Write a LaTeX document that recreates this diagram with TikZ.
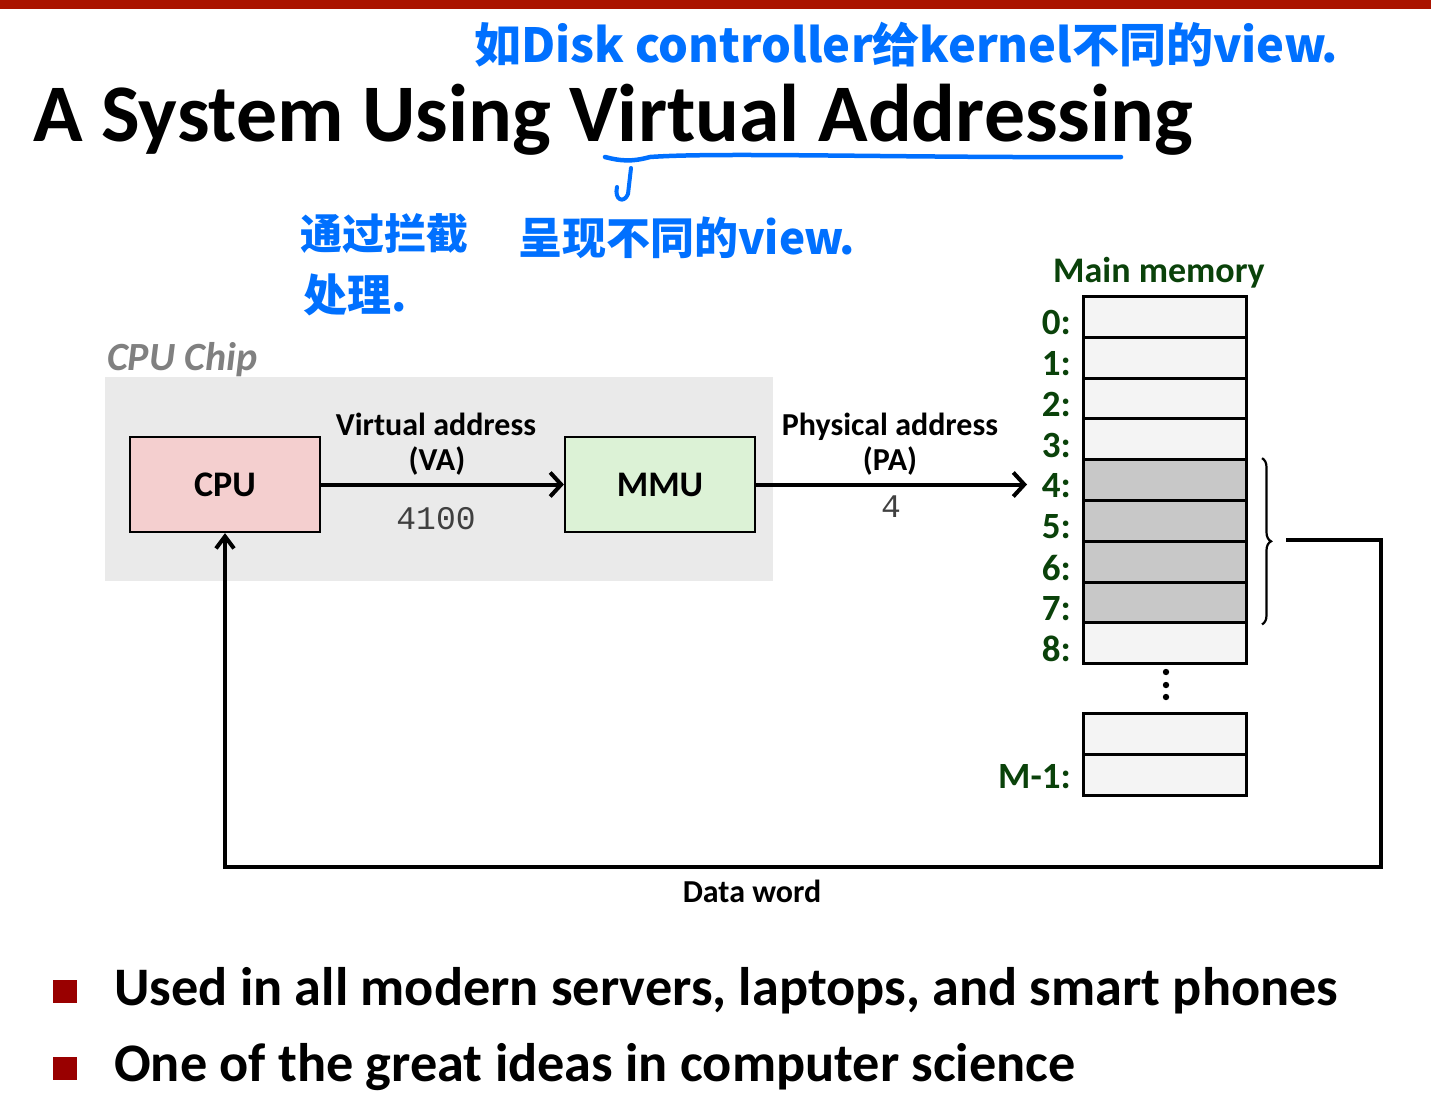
\documentclass[tikz,border=0pt]{standalone}
\usepackage{fontspec}
\setmainfont{Carlito}
\newfontfamily\monofont{Liberation Mono}
\newfontfamily\cjk{Noto Sans CJK SC}
\usetikzlibrary{arrows.meta,decorations.pathreplacing}
\definecolor{barred}{RGB}{170,20,0}
\definecolor{inkblue}{RGB}{0,112,255}
\definecolor{chipgray}{RGB}{234,234,234}
\definecolor{cpufill}{RGB}{244,207,207}
\definecolor{mmufill}{RGB}{220,242,214}
\definecolor{memgreen}{RGB}{10,66,10}
\definecolor{memlight}{RGB}{244,244,244}
\definecolor{memdark}{RGB}{200,200,200}
\definecolor{bulletred}{RGB}{153,0,0}
\definecolor{labelgray}{RGB}{128,128,128}
\newcommand{\fsz}[1]{\fontsize{#1}{#1}\selectfont}
\tikzset{
  unitbox/.style={draw=black, line width=2.2pt, minimum width=190pt, minimum height=95pt, inner sep=0pt, font=\fsz{36}\bfseries},
  memcell/.style={draw=black, line width=3pt, minimum width=163pt, minimum height=40.8pt, inner sep=0pt, anchor=north west},
  memlabel/.style={anchor=east, text=memgreen, font=\fsz{37}\bfseries, inner sep=0pt},
  flow/.style={line width=4pt, -{Straight Barb[length=11pt,width=24pt,line width=4pt]}},
  wire/.style={line width=3.8pt},
  lbl/.style={anchor=base, font=\fsz{32}\bfseries, inner sep=0pt},
  ink/.style={text=inkblue, font=\fsz{44}\cjk\bfseries, inner sep=0pt},
  inkline/.style={draw=inkblue, line width=4.5pt, line cap=round, line join=round},
  bulletbox/.style={fill=bulletred, minimum width=24pt, minimum height=23pt, inner sep=0pt, anchor=north west},
  bullettext/.style={anchor=base west, font=\fsz{54.3}\bfseries, inner sep=0pt}
}
\begin{document}
\begin{tikzpicture}[x=1pt,y=-1pt]
\useasboundingbox (0,0) rectangle (1431,1112);
\fill[white] (0,0) rectangle (1431,1112);
% top bar
\fill[barred] (0,0) rectangle (1431,9);
% title
\node[anchor=base west, inner sep=0pt, font=\fsz{81.8}\bfseries] (title) at (33,141) {A System Using Virtual Addressing};
% handwritten notes
\node[ink, anchor=west, font=\fsz{47}\cjk\bfseries] (note1) at (474,45) {如Disk controller给kernel不同的view.};
\draw[inkline] (605,157) .. controls (620,161) and (632,162) .. (650,157) .. controls (720,152) and (900,158) .. (1121,157);
\draw[inkline, line width=4pt] (631,168) -- (628,194) .. controls (624,204) and (614,200) .. (617,187);
\node[ink, anchor=west, font=\fsz{42}\cjk\bfseries] (note2) at (300,234) {通过拦截};
\node[ink, anchor=west] (note3) at (303,295) {处理.};
\node[ink, anchor=west] (note4) at (518,238) {呈现不同的view.};
% CPU chip
\node[anchor=base west, inner sep=0pt, text=labelgray, font=\fsz{40}\bfseries\itshape] (chiplabel) at (107,370) {CPU Chip};
\node[fill=chipgray, minimum width=668pt, minimum height=204pt, inner sep=0pt, anchor=north west] (chip) at (105,377) {};
\node[unitbox, fill=cpufill] (cpu) at (225,484.5) {CPU};
\node[unitbox, fill=mmufill] (mmu) at (660,484.5) {MMU};
\draw[flow] (cpu.east) -- (mmu.west);
\node[lbl] (va1) at (436,435) {Virtual address};
\node[lbl] (va2) at (437,470) {(VA)};
\node[anchor=base, inner sep=0pt, font=\fsz{33}\monofont, text=black!75] (vanum) at (436,529) {4100};
\coordinate (pa) at (1027,484.5);
\draw[flow] (mmu.east) -- (pa);
\node[lbl] (pa1) at (890,435) {Physical address};
\node[lbl] (pa2) at (890,470) {(PA)};
\node[anchor=base, inner sep=0pt, font=\fsz{33}\monofont, text=black!75] (panum) at (891,517) {4};
% main memory
\node[anchor=base, inner sep=0pt, text=memgreen, font=\fsz{36}\bfseries] (memtitle) at (1159,282) {Main memory};
\foreach \i in {0,...,8} {
  \pgfmathsetmacro{\yy}{295+\i*40.8}
  \ifnum\i<4 \def\cf{memlight}\else\ifnum\i<8 \def\cf{memdark}\else\def\cf{memlight}\fi\fi
  \node[memcell, fill=\cf] (m\i) at (1082,\yy) {};
  \node[memlabel] (l\i) at ([xshift=-11pt,yshift=-6pt]m\i.west) {\i:};
}
\node[memcell, fill=memlight] (ma) at (1082,712) {};
\node[memcell, fill=memlight] (mb) at (1082,752.8) {};
\node[memlabel] (lm) at ([xshift=-11pt,yshift=-2pt]mb.west) {M-1:};
\foreach \yy [count=\k] in {672,685,697} {
  \fill (1166,\yy) circle (3.2pt);
}
\draw[line width=2.2pt, decorate, decoration={brace, amplitude=9pt}] ([xshift=14pt]m4.north east) -- ([xshift=14pt]m7.south east);
% data word path
\coordinate (dw) at (1286,540);
\coordinate (dwc1) at (1381,540);
\coordinate (dwc2) at (1381,867);
\coordinate (dwc3) at (225,867);
\draw[wire, line join=miter, -{Straight Barb[length=12pt,width=18pt,line width=4pt]}] (dw) -- (dwc1) -- (dwc2) -- (dwc3) -- (cpu.south);
\node[lbl] (dwlabel) at (752,902) {Data word};
% bullets
\node[bulletbox] (b1) at (53,980) {};
\node[bullettext] (t1) at (114,1005) {Used in all modern servers, laptops, and smart phones};
\node[bulletbox] (b2) at (53,1057) {};
\node[bullettext] (t2) at (114,1081) {One of the great ideas in computer science};
\end{tikzpicture}
\end{document}
